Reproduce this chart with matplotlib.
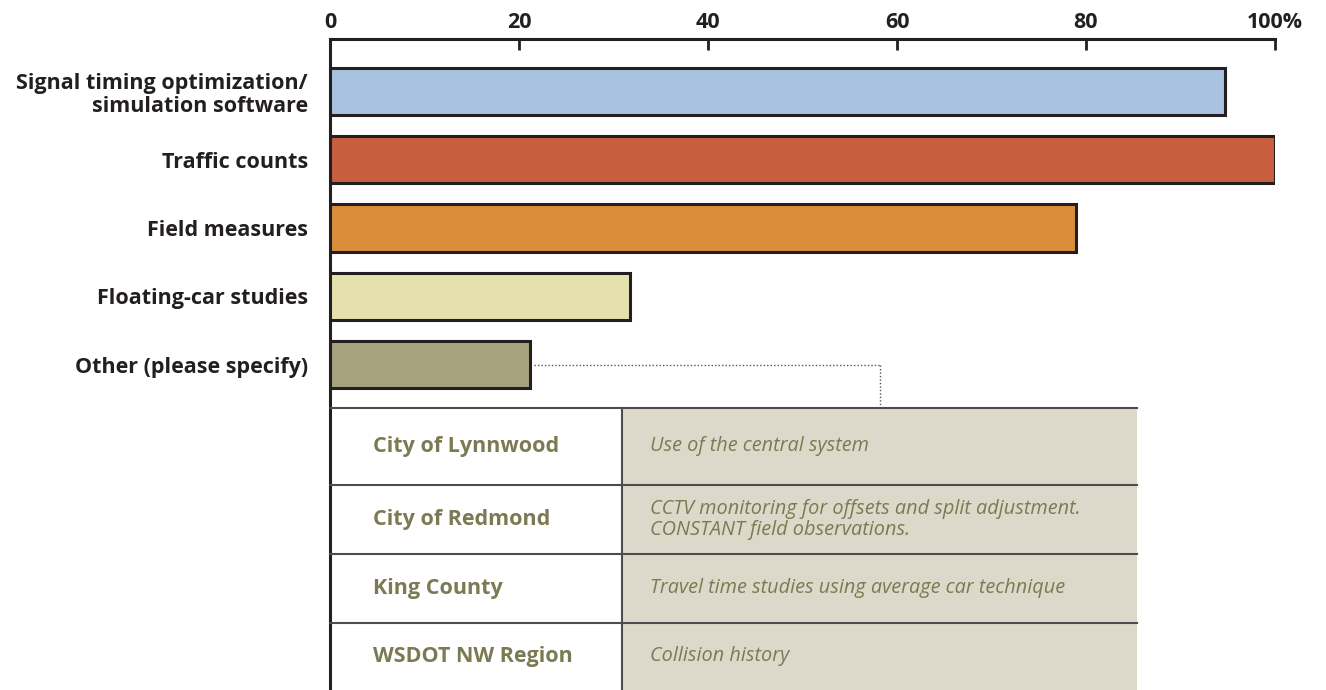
import matplotlib
matplotlib.use('Agg')
import matplotlib.pyplot as plt
from matplotlib.patches import Rectangle
from matplotlib.lines import Line2D

# Survey data
categories = [
    'Signal timing optimization/\nsimulation software',
    'Traffic counts',
    'Field measures',
    'Floating-car studies',
    'Other (please specify)',
]
percent = [94.7, 100, 78.9, 31.7, 21.2]
bar_colors = ['#A9C2E0', '#C85E3E', '#DA8E3A', '#E5E1AE', '#A7A27E']
tick_values = [0, 20, 40, 60, 80, 100]
tick_labels = ['0', '20', '40', '60', '80', '100%']

# "Other" responses
agencies = ['City of Lynnwood', 'City of Redmond', 'King County', 'WSDOT NW Region']
responses = [
    'Use of the central system',
    'CCTV monitoring for offsets and split adjustment.\nCONSTANT field observations.',
    'Travel time studies using average car technique',
    'Collision history',
]

W, H = 1326, 690
plt.rcParams['font.family'] = ['Open Sans', 'DejaVu Sans']

fig = plt.figure(figsize=(W / 100, H / 100), dpi=100)
ax = fig.add_axes([330 / W, 0, (1275 - 330) / W, 1 - 39 / H])

y = list(range(len(categories)))
ax.barh(y, percent, height=0.69, color=bar_colors, edgecolor='#231F20',
        linewidth=2.2, zorder=3)

ax.set_xlim(0, 100)
ax.set_ylim(8.77, -0.77)
ax.set_yticks(y)
ax.set_yticklabels(categories, fontsize=15.5, fontweight='bold', color='#231F20',
                   linespacing=1.1)
ax.tick_params(axis='y', length=0, pad=16)
ax.xaxis.tick_top()
ax.set_xticks(tick_values)
ax.set_xticklabels(tick_labels, fontsize=15.5, fontweight='bold', color='#231F20')
ax.tick_params(axis='x', direction='in', length=8, width=2, color='#231F20', pad=4)
# nudge "100%" so the number, not the sign, sits over its tick
ax.get_xticklabels()[-1].set_x(101.3)

for side in ['right', 'bottom']:
    ax.spines[side].set_visible(False)
for side in ['top', 'left']:
    ax.spines[side].set_linewidth(2.2)
    ax.spines[side].set_color('#231F20')
ax.spines['top'].set_bounds(0, 100)

# Table of "other" responses, laid out in figure pixels
def fx(px):
    return px / W

def fy(py):
    return 1 - py / H

tab_left, tab_mid, tab_right = 330, 622, 1137
row_edges = [408, 485, 554, 623, 690]
text_color = '#7B7A52'

for i, (agency, resp) in enumerate(zip(agencies, responses)):
    top, bot = row_edges[i], row_edges[i + 1]
    fig.patches.append(Rectangle((fx(tab_mid), fy(bot)), fx(tab_right) - fx(tab_mid),
                                 fy(top) - fy(bot), transform=fig.transFigure,
                                 facecolor='#DDD9CA', edgecolor='none', zorder=1))
    mid = (top + bot) / 2
    fig.text(fx(373), fy(mid), agency, fontsize=15.5, fontweight='bold',
             color=text_color, va='center', ha='left')
    fig.text(fx(650), fy(mid), resp, fontsize=14.3, style='italic',
             color=text_color, va='center', ha='left', linespacing=1.1)

for edge in row_edges[:-1]:
    fig.lines.append(Line2D([fx(tab_left), fx(tab_right)], [fy(edge), fy(edge)],
                            transform=fig.transFigure, color='#4D4D4D', lw=1.5))
fig.lines.append(Line2D([fx(tab_mid), fx(tab_mid)], [fy(row_edges[0]), 0],
                        transform=fig.transFigure, color='#4D4D4D', lw=1.5))

# Dotted leader from the "Other" bar to the table
corner_x = 58.2
ax.plot([percent[-1] + 0.4, corner_x], [4, 4], ls=(0, (1, 1.5)), color='#555555',
        lw=1, zorder=2)
ax.plot([corner_x, corner_x], [4, 4.63], ls=(0, (1, 1.5)), color='#555555',
        lw=1, zorder=2)

fig.savefig('out.png', dpi=100)
